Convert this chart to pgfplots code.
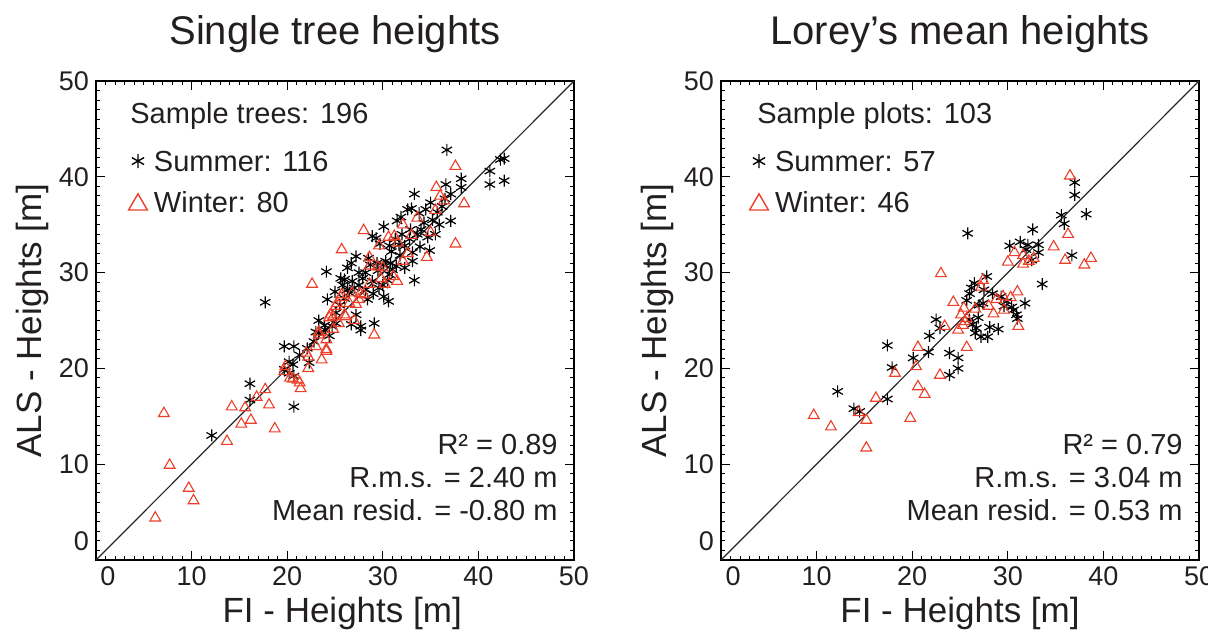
\documentclass[border=0pt]{standalone}
\usepackage{fontspec}
\setmainfont{Liberation Sans}
\usepackage{pgfplots}
\pgfplotsset{compat=1.18}
\definecolor{txt}{RGB}{35,31,32}
\definecolor{wred}{RGB}{236,62,40}

\pgfplotstableread{
x y
17.7 26.9
12.1 13.0
16.1 18.4
16.1 16.7
20.7 16.0
19.7 22.3
20.7 22.3
22.1 22.1
22.3 20.6
19.7 19.9
20.6 20.4
20.7 19.2
20.2 19.5
23.3 25.0
23.3 23.7
24.0 24.0
24.7 24.4
25.1 24.7
26.7 24.6
27.7 24.4
27.7 24.0
29.1 24.7
24.1 30.1
25.6 29.4
26.3 30.5
26.7 31.0
27.2 31.7
26.8 29.1
26.3 28.2
27.5 28.7
27.9 29.4
28.2 28.2
28.9 29.1
28.7 30.8
29.4 31.0
30.1 30.8
30.3 31.2
30.8 31.0
31.0 30.3
30.7 29.8
30.0 28.7
30.1 27.5
28.9 33.8
29.3 33.6
30.1 34.8
30.7 32.8
31.5 35.4
31.7 32.9
32.6 36.6
32.9 34.5
33.3 38.2
33.6 34.0
34.0 34.5
33.1 32.1
33.1 31.2
33.3 29.2
35.0 37.3
35.2 35.5
35.5 34.0
35.9 35.0
36.6 39.2
36.7 42.8
37.1 38.2
37.1 35.4
38.2 39.8
38.2 38.9
41.2 40.6
41.2 39.2
42.3 41.8
42.7 41.9
42.7 39.6
31.4 30.7
25.8 28.7
27.2 25.6
25.1 25.8
23.9 24.5
24.4 23.4
25.5 26.6
26.0 27.3
26.5 27.9
27.0 28.4
28.4 27.2
29.0 27.8
29.6 28.4
30.5 29.2
31.8 31.8
32.3 32.8
32.8 33.5
33.8 36.2
34.3 35.2
34.7 33.7
35.7 36.3
36.2 36.9
34.5 36.6
29.5 30.2
30.9 32.2
31.3 33.5
32.0 34.0
28.2 30.0
27.5 30.0
26.0 29.3
25.0 28.0
24.2 27.2
23.0 23.8
22.8 22.8
21.3 21.4
20.2 20.7
30.6 27.0
32.3 30.5
33.9 32.7
34.9 32.3
36.5 37.7
31.9 35.8
33.0 36.7
29.7 33.0
28.5 31.5
}\treesummer

\pgfplotstableread{
x y
7.1 15.3
7.7 9.9
9.7 7.5
10.2 6.2
6.2 4.4
13.7 12.4
14.2 16.0
15.2 14.2
15.6 15.9
16.2 14.6
17.7 17.8
18.1 16.2
18.7 13.7
19.7 19.7
21.1 18.8
21.3 18.5
22.2 21.2
22.2 20.0
23.6 20.9
24.1 21.8
24.1 23.0
23.3 23.5
24.4 25.3
24.8 25.4
25.1 26.5
25.6 27.4
26.1 25.4
26.5 26.8
27.2 26.7
27.5 27.2
28.0 27.7
29.1 23.5
22.6 28.8
25.7 32.4
28.0 34.4
28.6 31.6
29.6 32.8
28.6 30.7
29.8 29.4
30.2 28.8
30.6 33.7
31.2 33.8
31.6 33.1
31.5 29.1
32.1 35.0
32.1 31.2
33.0 33.9
33.6 35.7
34.6 31.6
35.6 38.9
35.5 36.5
36.0 38.0
36.4 37.5
37.6 41.1
37.6 33.0
38.5 37.2
29.5 30.6
31.1 29.6
27.6 27.8
25.7 27.7
25.2 26.8
26.0 25.6
24.5 25.6
24.1 22.0
23.3 23.8
20.3 19.0
20.6 18.9
19.8 20.2
21.4 17.9
22.0 21.6
16.8 17.0
26.8 27.9
27.0 25.0
28.6 28.8
30.0 30.5
24.8 24.1
25.4 24.7
32.6 32.0
35.0 34.2
23.0 22.3
}\treewinter

\pgfplotstableread{
x y
37.0 39.4
37.0 38.1
38.2 36.1
35.6 36.0
35.9 35.1
36.7 31.8
25.8 34.1
32.6 34.5
30.2 32.8
31.3 33.2
32.1 32.9
33.2 32.9
33.2 32.1
32.5 31.3
33.6 28.8
27.8 29.6
26.5 28.9
27.5 28.2
26.2 28.4
25.7 27.1
27.4 26.8
27.0 26.6
29.3 27.5
29.9 27.0
31.8 26.8
30.6 26.1
30.9 25.6
31.0 25.2
22.5 25.1
22.9 24.2
21.8 23.4
26.0 25.1
26.7 24.2
26.6 23.7
27.2 23.3
28.1 24.3
27.9 23.3
29.0 24.1
21.7 21.7
20.1 21.1
23.9 21.6
24.8 21.1
24.8 20.0
23.9 19.3
17.4 22.4
17.9 20.1
12.2 17.6
13.9 15.8
14.5 15.5
17.4 16.8
26.3 24.6
26.9 25.3
29.6 26.5
30.4 26.4
28.4 27.8
31.9 32.4
26.0 27.8
}\plotsummer

\pgfplotstableread{
x y
36.5 40.1
36.3 34.0
34.8 32.7
36.0 31.3
38.7 31.5
38.0 30.8
30.7 32.1
30.0 31.1
31.6 30.9
32.7 31.5
23.0 29.9
27.4 29.2
31.0 28.0
24.3 26.9
25.4 26.3
26.6 26.2
28.8 27.2
29.5 27.5
28.5 25.7
29.6 26.1
25.7 25.2
25.3 24.5
23.4 24.4
31.1 24.4
25.7 22.2
20.6 22.2
20.4 20.2
18.2 19.5
22.9 19.3
20.6 18.1
21.3 17.3
16.2 16.9
15.2 14.6
14.4 15.4
19.8 14.8
9.7 15.1
11.5 13.9
15.2 11.7
31.6 31.8
25.5 24.9
32.2 31.2
28.0 26.5
25.1 25.6
30.3 27.4
27.2 28.5
24.8 24.0
}\plotwinter

\tikzset{infotext/.style={font=\fontsize{14.5}{17}\selectfont, text=txt, inner sep=0pt}}

\pgfplotsset{
  myax/.style={
    scale only axis, width=239pt, height=239.5pt,
    anchor=south west,
    xmin=0, xmax=50, ymin=0, ymax=50,
    xtick={0,10,20,30,40,50}, ytick={0,10,20,30,40,50},
    xticklabels={\hspace*{12pt}0,10,20,30,40,50},
    yticklabels={\raisebox{9.5pt}[\height][\depth]{0},10,20,30,40,50},
    minor tick num=9,
    tick align=inside,
    major tick length=4.5pt, minor tick length=2pt,
    every tick/.style={black, line width=0.5pt},
    axis line style={black, line width=1pt},
    ticklabel style={font=\fontsize{13.5}{15}\selectfont, text=txt},
    xlabel style={font=\fontsize{17.5}{20}\selectfont, text=txt, anchor=base},
    ylabel style={font=\fontsize{17.5}{20}\selectfont, text=txt, at={(axis description cs:-0.115,0.5)}, anchor=base},
    title style={font=\fontsize{20}{23}\selectfont, text=txt, at={(axis description cs:0.5,1)}, anchor=base, yshift=12.5pt},
    xlabel={FI - Heights [m]},
    ylabel={ALS - Heights [m]},
    clip=false,
    legend cell align=left,
    legend style={draw=none, fill=none, inner sep=0pt, outer sep=0pt,
      anchor=north west, row sep=10.1pt, column sep=0pt,
      nodes={inner sep=0pt, text depth=0pt, text=txt},
      font=\fontsize{14.5}{17}\selectfont},
  },
  summerst/.style={only marks, mark=asterisk, mark size=3pt, black, mark options={line width=0.6pt},
    legend image code/.code={\path[draw=none] (-5pt,0pt) -- (8pt,0pt); \path[##1, draw=none, mark size=3.5pt, mark options={line width=0.7pt, draw=black}] plot[only marks] coordinates {(0pt,0pt)};}},
  winterst/.style={only marks, mark=triangle, mark size=3.1pt, wred, mark options={line width=0.55pt},
    legend image code/.code={\path[draw=none] (-5pt,0pt) -- (8pt,0pt); \path[##1, draw=none, mark size=5.4pt, mark options={line width=0.7pt, draw=wred}] plot[only marks] coordinates {(0pt,-1.35pt)};}},
}

\begin{document}
\begin{tikzpicture}
\path[use as bounding box] (0,0) rectangle (604pt,316.5pt);

\begin{axis}[myax, at={(48pt,36.5pt)},
  title={Single tree heights},
  xlabel style={at={(axis description cs:0.515,-0.1315)}},
  legend style={at={(axis description cs:0.0669,0.854)}}]
\addplot[color={rgb,255:red,40;green,40;blue,40}, line width=0.6pt, forget plot] coordinates {(0,0) (50,50)};
\addplot[summerst] table {\treesummer};
\addlegendentry{Summer: 116}
\addplot[winterst] table {\treewinter};
\addlegendentry{Winter: 80}
\node[infotext, anchor=base west] at (axis description cs:0.0711,0.9115) {Sample trees: 196};
\node[infotext, anchor=base east] at (axis description cs:0.9665,0.2205) {R² = 0.89};
\node[infotext, anchor=base east] at (axis description cs:0.9665,0.1516) {R.m.s. = 2.40 m};
\node[infotext, anchor=base east] at (axis description cs:0.9665,0.0827) {Mean resid. = -0.80 m};
\end{axis}

\begin{axis}[myax, at={(360.5pt,36.5pt)},
  title={Lorey’s mean heights},
  xlabel style={at={(axis description cs:0.5,-0.1315)}},
  legend style={at={(axis description cs:0.0586,0.854)}}]
\addplot[color={rgb,255:red,40;green,40;blue,40}, line width=0.6pt, forget plot] coordinates {(0,0) (50,50)};
\addplot[summerst] table {\plotsummer};
\addlegendentry{Summer: 57}
\addplot[winterst] table {\plotwinter};
\addlegendentry{Winter: 46}
\node[infotext, anchor=base west] at (axis description cs:0.0753,0.9115) {Sample plots: 103};
\node[infotext, anchor=base east] at (axis description cs:0.9665,0.2205) {R² = 0.79};
\node[infotext, anchor=base east] at (axis description cs:0.9665,0.1516) {R.m.s. = 3.04 m};
\node[infotext, anchor=base east] at (axis description cs:0.9665,0.0827) {Mean resid. = 0.53 m};
\end{axis}
\end{tikzpicture}
\end{document}
